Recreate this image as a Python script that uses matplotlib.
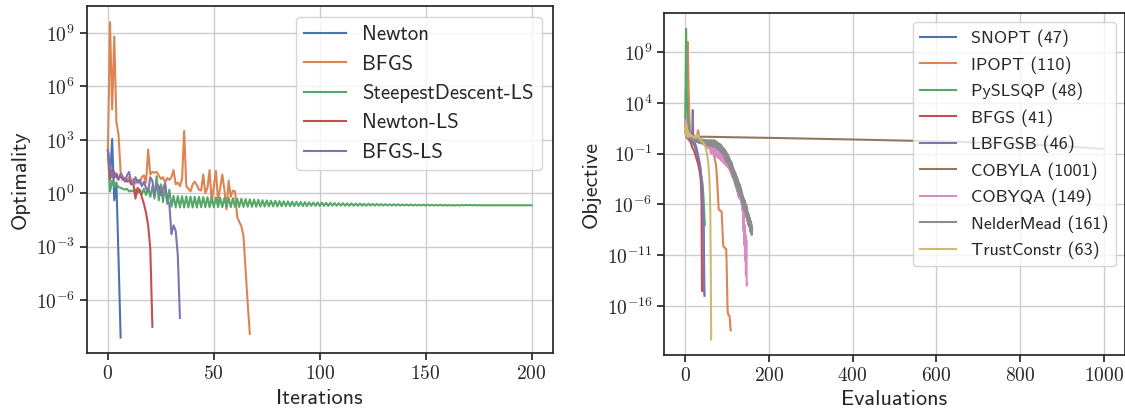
import numpy as np
import matplotlib
matplotlib.use("Agg")
import matplotlib.pyplot as plt
from matplotlib.ticker import FuncFormatter, NullLocator

# values are log10 of optimality / objective
newton = [2.4, 0.75, 3.05, -0.4, 0.6, -3.6, -8.1]
bfgs_it = [2.45, 9.6, 4.7, 8.8, 4.0, 3.3, 1.2, 0.9, 0.85, 0.7,
           0.9, 0.6, 0.8, 0.55, 0.75, 0.55, 0.9, 1.0, 0.6, 2.45,
           1.05, 1.2, 1.15, 1.2, 1.0, 0.8, 0.9, 0.6, 0.85, 0.75,
           0.9, 1.3, 0.5, 0.6, 0.4, 0.8, 3.5, 0.4, 0.25, 0.1,
           0.5, 0.65, 0.45, 0.2, 0.15, 1.05, 0.0, 0.3, 1.3, -0.5,
           0.4, 1.25, -0.45, 0.3, 1.05, 0.2, -0.9, 0.7, -0.2, 0.15,
           0.1, -1.3, -1.6, -1.85, -2.4, -4.3, -6.2, -7.9]
steepest_ls = [2.4, 0.1, 0.7, 0.35, 0.5, 0.35, 0.3, 0.25, 0.2, 0.25,
               0.1, 0.15, 0.1, 0.2, 0.0, 0.2, -0.05, 0.25, -0.1, 0.3,
               -0.2, 0.4, -0.3, 0.95, -0.4, 0.5, -0.5, 0.5, -0.6, 0.2,
               -0.75, -0.15, -0.8, -0.16, -0.8, -0.17, -0.8, -0.18, -0.8, -0.19,
               -0.8, -0.2, -0.8, -0.2, -0.79, -0.21, -0.79, -0.22, -0.79, -0.23,
               -0.79, -0.24, -0.78, -0.25, -0.78, -0.26, -0.78, -0.27, -0.78, -0.28,
               -0.77, -0.3, -0.77, -0.31, -0.77, -0.33, -0.76, -0.34, -0.76, -0.36,
               -0.76, -0.37, -0.75, -0.39, -0.75, -0.4, -0.74, -0.42, -0.74, -0.43,
               -0.74, -0.44, -0.73, -0.45, -0.73, -0.46, -0.73, -0.47, -0.72, -0.48,
               -0.72, -0.49, -0.72, -0.5, -0.72, -0.51, -0.71, -0.52, -0.71, -0.52,
               -0.71, -0.53, -0.71, -0.54, -0.71, -0.54, -0.7, -0.55, -0.7, -0.56,
               -0.7, -0.56, -0.7, -0.57, -0.7, -0.57, -0.7, -0.58, -0.7, -0.58,
               -0.7, -0.59, -0.7, -0.59, -0.69, -0.6, -0.69, -0.6, -0.69, -0.61,
               -0.69, -0.61, -0.69, -0.62, -0.69, -0.62, -0.69, -0.62, -0.69, -0.63,
               -0.69, -0.63, -0.69, -0.63, -0.69, -0.64, -0.69, -0.64, -0.69, -0.64,
               -0.69, -0.64, -0.69, -0.65, -0.69, -0.65, -0.69, -0.65, -0.69, -0.65,
               -0.69, -0.66, -0.69, -0.66, -0.69, -0.66, -0.69, -0.66, -0.68, -0.66,
               -0.68, -0.66, -0.68, -0.66, -0.68, -0.67, -0.68, -0.67, -0.68, -0.67,
               -0.68, -0.67, -0.68, -0.67, -0.68, -0.67, -0.68, -0.67, -0.68, -0.67,
               -0.68, -0.67, -0.68, -0.67, -0.68, -0.67, -0.68, -0.67, -0.68, -0.67,
               -0.68]
newton_ls = [2.4, 0.8, 1.3, 0.9, 1.1, 0.85, 0.95, 0.75, 0.8, 0.65,
             0.7, 0.5, 0.55, -0.3, 0.3, 0.15, -0.2, -0.6, -1.1, -1.8,
             -3.1, -7.5]
bfgs_ls = [2.4, 1.3, 0.9, 1.2, 0.9, 0.75, 1.1, 0.9, 0.65, 1.0,
           1.2, 0.6, 0.5, 0.9, 0.6, 0.75, 0.4, 0.65, 0.3, 0.1,
           0.9, 0.7, -0.15, 0.5, 0.4, -0.1, 0.3, 0.55, -0.4, -0.6,
           -2.3, -1.8, -2.1, -3.5, -7.0]
left_labels = ["Newton", "BFGS", "SteepestDescent-LS", "Newton-LS", "BFGS-LS"]

snopt = [1.5, 1.0, 1.5, 0.9, 0.8, 0.7, 0.65, 0.6, 0.55, 0.5,
         0.45, 0.42, 0.4, 0.37, 0.35, 0.3, 0.25, 0.2, 0.15, 0.1,
         0.0, -0.1, -0.2, -0.3, -0.4, -0.5, -0.6, -0.75, -0.9, -1.05,
         -1.2, -1.35, -1.5, -1.7, -1.95, -2.2, -2.5, -2.8, -3.1, -3.5,
         -3.9, -4.5, -5.3, -6.5, -8.2, -11.5, -15.0]
ipopt = [1.5, 3.0, 5.5, 7.5, 9.0, 9.6, 10.0, 7.5, 5.5, 3.9,
         2.5, 1.8, 1.4, 1.2, 1.0, 0.9, 0.85, 0.8, 0.75, 0.7,
         0.7, 0.65, 0.6, 0.6, 0.55, 0.55, 0.5, 0.5, 0.6, 0.9,
         1.2, 1.3, 1.0, 0.6, 0.4, 0.35, 0.3, 0.28, 0.25, 0.22,
         0.2, 0.15, 0.1, 0.05, 0.0, -0.02, -0.04, -0.06, -0.08, -0.1,
         -0.12, -0.14, -0.16, -0.18, -0.2, -0.22, -0.24, -0.26, -0.28, -0.3,
         -0.35, -0.4, -0.45, -0.5, -0.55, -0.6, -0.7, -0.85, -1.0, -1.2,
         -1.4, -1.6, -1.8, -2.0, -2.3, -2.8, -3.5, -4.2, -5.0, -5.8,
         -6.5, -6.55, -6.55, -6.6, -6.6, -6.65, -6.65, -6.7, -7.5, -8.5,
         -9.4, -10.1, -10.15, -10.2, -10.25, -10.3, -10.3, -10.35, -10.4, -12.0,
         -14.0, -16.0, -16.8, -16.85, -16.9, -16.95, -17.0, -17.5, -18.2, -18.4]
pyslsqp = [1.5, 6.0, 11.3, 7.0, 4.6, 4.0, 3.3, 2.0, 1.5, 1.1,
           0.9, 0.8, 0.7, 0.65, 0.6, 0.55, 0.5, 0.45, 0.4, 0.35,
           0.3, 0.2, 0.1, 0.0, -0.15, -0.3, -0.5, -0.8, -1.1, -1.4,
           -1.7, -1.9, -2.1, -2.3, -2.5, -2.6, -2.8, -3.0, -3.2, -3.4,
           -3.6, -3.9, -4.3, -4.9, -5.6, -6.5, -7.3, -8.0]
bfgs_ev = [1.5, 1.0, 0.8, 0.7, 0.6, 0.55, 0.5, 0.45, 0.4, 0.35,
           0.3, 0.25, 0.2, 0.1, 0.0, -0.1, -0.3, -0.4, -0.5, -0.55,
           -0.6, -0.7, -0.8, -0.95, -1.1, -1.2, -1.35, -1.5, -1.6, -1.75,
           -1.9, -2.05, -2.2, -2.4, -2.6, -2.9, -3.2, -3.6, -4.3, -6.0,
           -14.5]
lbfgsb = [1.5, 1.2, 0.9, 1.1, 0.8, 0.7, 0.65, 0.6, 0.55, 0.5,
          0.45, 0.4, 0.4, 0.35, 0.35, 0.3, 0.6, 1.5, 3.3, 1.0,
          0.3, 0.2, 0.1, 0.0, -0.1, -0.2, -0.3, -0.45, -0.6, -0.8,
          -1.0, -1.2, -1.4, -1.6, -1.9, -2.1, -2.3, -2.7, -3.2, -3.8,
          -4.5, -5.2, -6.2, -7.5, -9.8, -14.7]
cobyla_x = [0, 1, 2, 3, 5, 8, 10, 15, 20, 30, 40, 60, 100, 200, 300,
            400, 500, 600, 700, 800, 900, 1000]
cobyla = [1.5, 1.0, 1.3, 0.9, 1.0, 0.8, 0.75, 0.72, 0.7, 0.68, 0.67,
          0.66, 0.63, 0.56, 0.48, 0.4, 0.31, 0.22, 0.1, -0.05, -0.25, -0.54]
cobyqa = [2.3, 1.2, 2.0, 1.0, 1.5, 0.9, 1.3, 0.8, 1.1, 0.7,
          1.0, 0.6, 0.9, 0.55, 0.8, 0.5, 0.75, 0.45, 0.7, 0.4,
          0.65, 0.35, 0.6, 0.3, 0.55, 0.25, 0.5, 0.2, 0.5, 0.2,
          0.45, 0.15, 0.4, 0.1, 0.4, 0.1, 0.35, 0.05, 0.35, 0.0,
          0.3, 0.0, 0.3, -0.05, 0.25, -0.1, 0.2, -0.15, 0.2, -0.2,
          0.0, -0.35, -0.05, -0.4, -0.05, -0.45, -0.1, -0.45, -0.15, -0.5,
          -0.3, -0.9, -0.35, -0.95, -0.4, -1.0, -0.4, -1.05, -0.45, -1.1,
          -0.5, -1.15, -0.55, -1.2, -0.6, -1.25, -0.6, -1.35, -0.65, -1.4,
          -0.7, -1.45, -0.75, -1.5, -0.8, -1.6, -0.85, -1.65, -0.9, -1.75,
          -1.0, -1.85, -1.05, -1.9, -1.1, -2.0, -1.15, -2.1, -1.25, -2.2,
          -1.3, -2.3, -1.4, -2.4, -1.5, -2.5, -1.6, -2.7, -1.75, -2.9,
          -1.9, -3.1, -2.1, -3.3, -2.3, -3.5, -2.5, -3.7, -2.7, -4.0,
          -2.9, -4.2, -3.2, -4.5, -3.5, -4.8, -3.8, -5.2, -4.1, -5.4,
          -4.1, -5.2, -4.4, -5.6, -4.8, -6.0, -5.2, -6.6, -6.0, -8.6,
          -7.0, -10.0, -8.0, -11.5, -9.0, -13.0, -9.5, -14.0, -13.8]
neldermead = [1.5, 1.0, 1.8, 0.9, 1.4, 0.8, 1.1, 0.7, 0.9, 0.6,
              0.8, 0.5, 0.7, 0.45, 0.65, 0.4, 0.6, 0.35, 0.55, 0.3,
              0.55, 0.25, 0.5, 0.2, 0.5, 0.2, 0.45, 0.15, 0.45, 0.15,
              0.45, 0.1, 0.4, 0.1, 0.4, 0.1, 0.4, 0.1, 0.4, 0.1,
              0.4, 0.05, 0.35, 0.0, 0.35, 0.0, 0.35, -0.05, 0.3, -0.1,
              0.3, -0.1, 0.3, -0.15, 0.3, -0.15, 0.3, -0.2, 0.3, -0.2,
              0.3, -0.2, 0.3, -0.25, 0.3, -0.25, 0.3, -0.3, 0.3, -0.3,
              0.3, -0.3, 0.25, -0.35, 0.2, -0.4, 0.1, -0.5, 0.05, -0.55,
              0.0, -0.6, -0.05, -0.7, -0.1, -0.8, -0.2, -0.9, -0.3, -1.0,
              -0.4, -1.1, -0.5, -1.25, -0.6, -1.4, -0.7, -1.6, -0.85, -1.8,
              -1.0, -1.9, -1.1, -2.0, -1.3, -2.2, -1.5, -2.4, -1.7, -2.6,
              -1.8, -2.7, -2.0, -3.0, -2.3, -3.3, -2.6, -3.6, -2.8, -3.9,
              -3.0, -4.2, -3.2, -4.3, -3.4, -4.5, -3.6, -4.7, -3.8, -4.9,
              -4.0, -5.1, -4.3, -5.3, -4.6, -5.6, -4.9, -6.0, -5.2, -6.3,
              -5.4, -6.6, -5.6, -6.8, -5.9, -7.1, -6.1, -7.4, -6.4, -7.7,
              -6.8, -8.0, -7.0, -8.2, -7.3, -8.6, -7.6, -8.8, -7.9, -9.0,
              -8.3]
trustconstr = [1.5, 1.0, 2.0, 0.8, 1.6, 0.7, 1.2, 0.6, 1.0, 0.9,
               0.85, 0.8, 0.9, 0.75, 0.8, 0.7, 0.75, 0.7, 0.7, 0.65,
               0.65, 0.6, 0.65, 0.6, 0.6, 0.55, 0.6, 0.6, 0.7, 0.8,
               0.85, 0.8, 0.7, 0.6, 0.5, 0.45, 0.4, 0.35, 0.3, 0.25,
               0.2, 0.15, 0.1, 0.05, 0.0, -0.05, -0.1, -0.2, -0.3, -0.45,
               -0.6, -0.8, -1.0, -1.3, -1.6, -1.9, -2.4, -3.0, -3.6, -5.0,
               -7.0, -12.0, -19.3]
right_labels = ["SNOPT (47)", "IPOPT (110)", "PySLSQP (48)", "BFGS (41)",
                "LBFGSB (46)", "COBYLA (1001)", "COBYQA (149)",
                "NelderMead (161)", "TrustConstr (63)"]

deep = ["#4C72B0", "#DD8452", "#55A868", "#C44E52", "#8172B3",
        "#937860", "#DA8BC3", "#8C8C8C", "#CCB974"]

plt.rcParams.update({
    "font.family": "cmss10",
    "mathtext.fontset": "cm",
    "mathtext.default": "rm",
    "axes.formatter.use_mathtext": True,
    "font.size": 14,
    "axes.labelsize": 16,
    "text.color": "0.15",
    "axes.labelcolor": "0.15",
    "axes.edgecolor": "0.15",
    "axes.linewidth": 1.25,
    "xtick.color": "0.15",
    "ytick.color": "0.15",
    "xtick.major.size": 5,
    "ytick.major.size": 5,
    "xtick.major.width": 1.25,
    "ytick.major.width": 1.25,
    "grid.color": "0.8",
    "grid.linewidth": 1.0,
    "legend.edgecolor": "0.8",
    "lines.linewidth": 1.5,
})

fig = plt.figure(figsize=(11.25, 4.09), dpi=100)
ax1 = fig.add_axes([0.0771, 0.1362, 0.4142, 0.848])
ax2 = fig.add_axes([0.5905, 0.132, 0.4091, 0.8355])

left_series = [newton, bfgs_it, steepest_ls, newton_ls, bfgs_ls]
for vals, lab, c in zip(left_series, left_labels, deep):
    ax1.semilogy(np.arange(len(vals)), 10.0 ** np.array(vals), color=c, label=lab)

right_series = [snopt, ipopt, pyslsqp, bfgs_ev, lbfgsb, cobyla, cobyqa,
                neldermead, trustconstr]
for i, (vals, lab) in enumerate(zip(right_series, right_labels)):
    xs = cobyla_x if vals is cobyla else np.arange(len(vals))
    ax2.semilogy(xs, 10.0 ** np.array(vals), color=deep[i], label=lab)

sci = FuncFormatter(lambda v, p: r"$10^{%d}$" % round(np.log10(v)))
plain = FuncFormatter(lambda v, p: r"$%d$" % round(v))

ax1.set_yticks([1e-6, 1e-3, 1e0, 1e3, 1e6, 1e9])
ax2.set_yticks([1e-16, 1e-11, 1e-6, 1e-1, 1e4, 1e9])
ax1.set_xticks([0, 50, 100, 150, 200])
ax2.set_xticks([0, 200, 400, 600, 800, 1000])
for ax in (ax1, ax2):
    ax.yaxis.set_major_formatter(sci)
    ax.xaxis.set_major_formatter(plain)
    ax.yaxis.set_minor_locator(NullLocator())
    ax.grid(True)
    ax.set_axisbelow(True)

ax1.legend(loc="upper right", fontsize=15)
ax2.legend(loc="upper right", fontsize=13)

ax1.set_xlabel("Iterations")
ax1.set_ylabel("Optimality")
ax2.set_xlabel("Evaluations")
ax2.set_ylabel("Objective")

fig.savefig("out.png", dpi=100)
